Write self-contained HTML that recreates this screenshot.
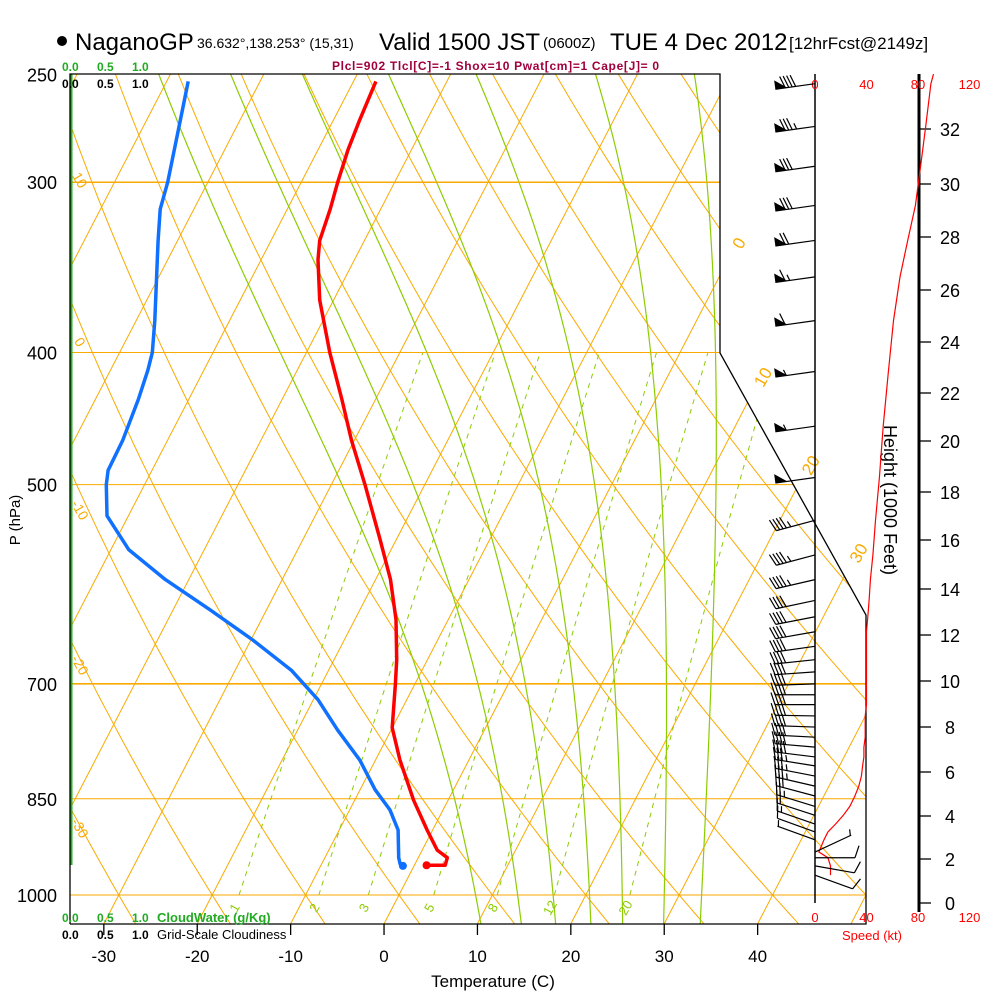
<!DOCTYPE html>
<html><head><meta charset="utf-8"><style>
html,body{margin:0;padding:0;background:#fff;}
svg{display:block;font-family:"Liberation Sans",sans-serif;}
</style></head><body>
<svg id="chart" width="1000" height="1000" viewBox="0 0 1000 1000" xmlns="http://www.w3.org/2000/svg">
<defs><clipPath id="plotclip"><polygon points="70,74 720,74 720,353 866,615 866,924 70,924"/></clipPath></defs>
<rect width="1000" height="1000" fill="#fff"/>
<g>
<circle cx="62" cy="41" r="5" fill="#000"/>
<text x="75" y="50" font-size="24">NaganoGP</text>
<text x="197" y="48" font-size="14">36.632°,138.253° (15,31)</text>
<text x="379" y="50" font-size="24">Valid 1500 JST</text>
<text x="543" y="48" font-size="15">(0600Z)</text>
<text x="610" y="50" font-size="24">TUE 4 Dec 2012</text>
<text x="789" y="49" font-size="17">[12hrFcst@2149z]</text>
</g>
<text x="332" y="70" font-size="12" font-weight="bold" fill="#a0003c" textLength="327">Plcl=902 Tlcl[C]=-1 Shox=10 Pwat[cm]=1 Cape[J]= 0</text>
<g id="grid" clip-path="url(#plotclip)"></g>
<g id="over"></g>
</svg>
<script>
// ---- data ----
const tempP = [253,270,284,300,314,331,342,366,400,433,464,500,549,587,628,672,700,754,796,852,896,927,939,951,951];
const tempC = [-47.6,-47.2,-46.8,-46.1,-45.4,-44.8,-43.9,-41.5,-37.5,-33.6,-30.3,-26.4,-21.7,-18.4,-15.6,-13.3,-12.1,-10.0,-7.4,-3.7,-0.6,1.6,3.1,3.3,1.3];
const dewP = [253,270,300,314,331,379,400,412,433,464,488,500,527,558,587,618,650,684,719,757,796,837,866,896,939,949,952];
const dewC = [-67.7,-66.4,-64.3,-63.6,-62.1,-58.0,-56.5,-56.0,-55.4,-54.8,-54.7,-54.1,-52.3,-48.1,-42.5,-36.0,-29.8,-24.0,-19.5,-15.7,-11.7,-8.4,-5.7,-3.7,-2.1,-1.6,-1.2];
const windP = [254,273,292,312,331,352,379,413,453,494,531,563,587,608,625,641,657,672,686,700,713,725,739,753,766,779,792,804,818,832,846,861,874,887,899,911,930,939,952,967];
const windSpd = [90,86,82,78,72,66,61,57,53,50,47,45,43,42,41,40,40,40,40,40,40,40,39,39,39,38,38,37,36,34,31,27,22,16,10,7,3,10,12,12];
const windDir = [262,262,262,262,262,262,262,262,262,262,255,255,257,258,259,260,262,264,266,268,270,270,271,272,273,275,277,279,281,283,285,287,288,289,290,290,65,90,100,110];
const pLevels = [250,300,400,500,700,850,1000];
const tTicks = [-30,-20,-10,0,10,20,30,40];
const moistStart = [8.2,12.7,16.5,20.4,23.9,28.4,32.4];
const mixRatios = [1,2,3,5,8,12,20];
const thetaLabels = [10,0,-10,-20,-30];
const thetaLabelY = [180,342,510,665,828];
const isoLabels = [0,10,20,30];
const heightTicks = [0,2,4,6,8,10,12,14,16,18,20,22,24,26,28,30,32];
const heightY = [903,859,816,772,727,681,635,589,540,492,441,393,342,290,237,184,129];
const speedTicks = [0,40,80,120];

// ---- axes ----
const NS='http://www.w3.org/2000/svg';
function yP(p){return 895-592*Math.log(1000/p);}
function xT(T,p){return 399+9.34*T+306.7*Math.log(1000/p);}
function xSpd(s){return 815+s*51.5/40;}
const grid=document.getElementById('grid'), over=document.getElementById('over');
function mk(tag,attrs,parent){const e=document.createElementNS(NS,tag);for(const k in attrs)e.setAttribute(k,attrs[k]);parent.appendChild(e);return e;}
function pathOf(pts){return pts.map((q,i)=>(i?'L':'M')+q[0].toFixed(1)+','+q[1].toFixed(1)).join('');}
const ORANGE='#f9aa00', GREEN='#8ccc00';

// isotherms
for(let T=-120;T<=50;T+=10){
  const e=mk('path',{d:pathOf([[xT(T,1050),yP(1050)],[xT(T,240),yP(240)]]),stroke:ORANGE,'stroke-width':1,fill:'none'},grid);
  
  
}
// dry adiabats
for(let th=-50;th<=170;th+=10){
  const pts=[];
  for(let p=1060;p>=240;p-=10){const T=(th+273.15)*Math.pow(p/1000,0.2857)-273.15;pts.push([xT(T,p),yP(p)]);}
  const e=mk('path',{d:pathOf(pts),stroke:ORANGE,'stroke-width':1,fill:'none'},grid);
  
  
}
// moist adiabats
function dTdp(T,p){const tc=T-273.15;const es=6.112*Math.exp(17.67*tc/(tc+243.5));const rs=0.622*es/(p-es);
  const L=2.501e6;return (287.04*T+L*rs)/(1005.7+L*L*rs*0.622/(287.04*T*T))/p;}
moistStart.forEach(t0=>{
  const up=[];let T=t0+273.15;
  for(let p=1000;p>=240;p-=1){up.push([xT(T-273.15,p),yP(p)]);T-=dTdp(T,p)*1;}
  const dn=[];T=t0+273.15;
  for(let p=1000;p<=1060;p+=1){dn.push([xT(T-273.15,p),yP(p)]);T+=dTdp(T,p)*1;}
  const pts=dn.reverse().concat(up);
  const e=mk('path',{d:pathOf(pts),stroke:GREEN,'stroke-width':1.2,fill:'none'},grid);
  
  
});
// mixing ratio lines
function tdOf(w,p){const e=(w/1000)*p/(0.622+w/1000);const l=Math.log(e/6.112);return 243.5*l/(17.67-l);}
mixRatios.forEach(w=>{
  const pts=[];for(let p=1000;p>=400;p-=10)pts.push([xT(tdOf(w,p),p),yP(p)]);
  const e=mk('path',{d:pathOf(pts),stroke:GREEN,'stroke-width':1,'stroke-dasharray':'5,5',fill:'none'},grid);
  
  
  const x=xT(tdOf(w,1000),1000)-4, y=912;
  const t=mk('text',{x:x,y:y,'font-size':13,fill:GREEN,'text-anchor':'middle',transform:`rotate(-60 ${x} ${y-4})`},over);
  t.textContent=w;
  
  
});
// pressure lines
pLevels.forEach(p=>{
  if(p===250)return;
  const major=(p===300||p===700);
  const e=mk('line',{x1:70,x2:866,y1:yP(p),y2:yP(p),stroke:ORANGE,'stroke-width':major?1.6:1},grid);
  
  
});
// cloud water zero line
const cw=mk('line',{x1:71,x2:71,y1:74,y2:865,stroke:'#22b022','stroke-width':3},over);


// frame
const fr=mk('polyline',{points:'70,924 70,74 720,74 720,353 866,615 866,924 70,924',fill:'none',stroke:'#000','stroke-width':1.3},over);


// profiles
function profile(P,C,color,name){
  const pts=P.map((p,i)=>[xT(C[i],p),yP(p)]);
  const e=mk('path',{d:pathOf(pts),stroke:color,'stroke-width':3.5,fill:'none','stroke-linejoin':'round'},over);
  
  
  const l=pts[pts.length-1];
  const d=mk('circle',{cx:l[0],cy:l[1],r:4,fill:color},over);
  
  
}
profile(tempP,tempC,'#ff0000','temperature-profile');
profile(dewP,dewC,'#1070ff','dewpoint-profile');
// pressure labels
pLevels.forEach(p=>{
  const t=mk('text',{x:57,y:yP(p)+7,'font-size':18,'text-anchor':'end'},over);
  t.textContent=p;
  
  
});
// temperature ticks
tTicks.forEach(T=>{
  const x=xT(T,1050);
  const l=mk('line',{x1:x,x2:x,y1:924,y2:935,stroke:'#000','stroke-width':1.3},over);
  
  
  const t=mk('text',{x:x,y:962,'font-size':17,'text-anchor':'middle'},over);
  t.textContent=T;
  
  
});
// theta labels (left)
thetaLabels.forEach((th,i)=>{
  const y=thetaLabelY[i],x=80;
  const t=mk('text',{x:x,y:y+5,'font-size':14,fill:ORANGE,'text-anchor':'middle',transform:`rotate(60 ${x} ${y})`},over);
  t.textContent=th;
  
  
});
// isotherm labels (right)
const isoY=[243,377,465,553];
isoLabels.forEach((T,i)=>{
  const y=isoY[i];const p=1000*Math.exp(-(895-y)/592);const x=xT(T,p)+2;
  const t=mk('text',{x:x,y:y+6,'font-size':17,fill:ORANGE,'text-anchor':'middle',transform:`rotate(-60 ${x} ${y})`},over);
  t.textContent=T;
  
  
});
// axis titles
const tt=mk('text',{x:493,y:987,'font-size':17,'text-anchor':'middle'},over);tt.textContent='Temperature (C)';


const pt=mk('text',{x:20,y:520,'font-size':15,'text-anchor':'middle',transform:'rotate(-90 20 520)'},over);pt.textContent='P (hPa)';


// cloud scale labels
[['0.0',62],['0.5',97],['1.0',132]].forEach(a=>{
  [[71,'#22aa22','cloud-water-scale-top'],[88,'#000','cloudiness-scale-top'],[922,'#22aa22','cloud-water-scale-bottom'],[939,'#000','cloudiness-scale-bottom']].forEach(b=>{
    const t=mk('text',{x:a[1],y:b[0],'font-size':12,'font-weight':'bold',fill:b[1]},over);t.textContent=a[0];
    
    
  });
});
const cwl=mk('text',{x:157,y:922,'font-size':13,'font-weight':'bold',fill:'#22aa22'},over);cwl.textContent='CloudWater (g/Kg)';


const gcl=mk('text',{x:157,y:939,'font-size':13},over);gcl.textContent='Grid-Scale Cloudiness';


// speed axis
const sa=mk('line',{x1:815,x2:815,y1:74,y2:903,stroke:'#000','stroke-width':1.5},over);


const ha=mk('line',{x1:919,x2:919,y1:74,y2:912,stroke:'#000','stroke-width':3},over);


speedTicks.forEach(s=>{
  [89,922].forEach(y=>{
    const t=mk('text',{x:xSpd(s),y:y,'font-size':13,fill:'#ff0000','text-anchor':'middle'},over);t.textContent=s;
    
    
  });
});
const sl=mk('text',{x:872,y:940,'font-size':13,fill:'#ff0000','text-anchor':'middle'},over);sl.textContent='Speed (kt)';


heightTicks.forEach((h,i)=>{
  const y=heightY[i];
  const l=mk('line',{x1:919,x2:931,y1:y,y2:y,stroke:'#000','stroke-width':1.3},over);
  
  
  const t=mk('text',{x:h<10?945:940,y:y+7,'font-size':18},over);t.textContent=h;
  
  
});
const hl=mk('text',{x:884,y:500,'font-size':18,'text-anchor':'middle',transform:'rotate(90 884 500)'},over);hl.textContent='Height (1000 Feet)';


// wind speed line
const spts=windP.map((p,i)=>[xSpd(windSpd[i]),yP(p)]);
spts.unshift([xSpd(windSpd[0]+2),74]);
const sp=mk('path',{d:pathOf(spts),stroke:'#ff0000','stroke-width':1.2,fill:'none'},over);


// wind barbs
windP.forEach((p,i)=>{
  const y=yP(p),bx=815,d=windDir[i]*Math.PI/180,s=windSpd[i];
  const len=40;
  const ux=Math.sin(d),uy=-Math.cos(d);
  const nx=-uy,ny=ux;
  const g=mk('g',{stroke:'#000','stroke-width':1.2,fill:'#000'},over);
  
  
  const tx=bx+ux*len,ty=y+uy*len;
  mk('line',{x1:bx,y1:y,x2:tx,y2:ty},g);
  let rem=Math.round(s/5)*5,pos=0;
  const flip=(ny>0)?-1:1;
  const fnx=nx*flip,fny=ny*flip;
  while(rem>=50){
    const ax=tx-ux*pos,ay=ty-uy*pos;
    mk('polygon',{points:`${ax},${ay} ${ax+fnx*9},${ay+fny*9} ${ax-ux*12},${ay-uy*12}`,stroke:'none'},g);
    pos+=10;rem-=50;
  }
  while(rem>=10){
    const ax=tx-ux*pos,ay=ty-uy*pos;
    mk('line',{x1:ax,y1:ay,x2:ax+fnx*12+ux*4,y2:ay+fny*12+uy*4},g);
    pos+=3.5;rem-=10;
  }
  if(rem>=5){
    const ax=tx-ux*(pos+1),ay=ty-uy*(pos+1);
    mk('line',{x1:ax,y1:ay,x2:ax+fnx*6+ux*2,y2:ay+fny*6+uy*2},g);
  }
});
</script>
</body></html>
